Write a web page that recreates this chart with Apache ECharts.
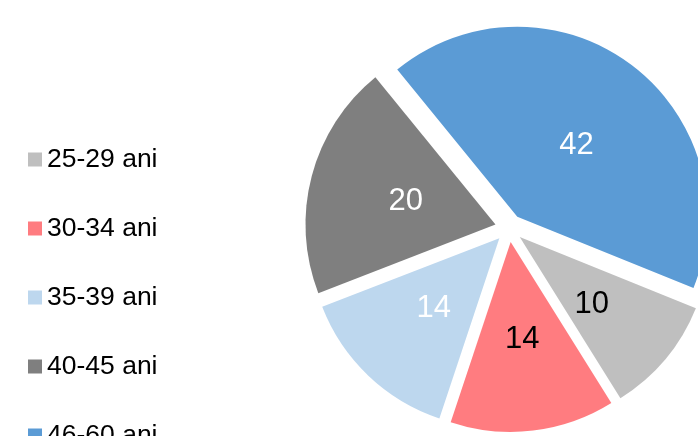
<!DOCTYPE html>
<html>
<head>
<meta charset="utf-8">
<script src="https://cdn.jsdelivr.net/npm/echarts@6/dist/echarts.min.js"></script>
<style>
  html, body { margin: 0; padding: 0; background: #fff; }
  #chart { width: 698px; height: 436px; }
</style>
</head>
<body>
<div id="chart"></div>
<script>
const categories = ['25-29 ani', '30-34 ani', '35-39 ani', '40-45 ani', '46-60 ani'];
const values = [10, 14, 14, 20, 42];
const colors = ['#BFBFBF', '#FF7C80', '#BDD7EE', '#7F7F7F', '#5B9BD5'];
const labelColors = ['#000', '#000', '#fff', '#fff', '#fff'];
// small nudges so the value labels sit where the original put them
const labelNudge = [[-3, 4], [0, 0], [2, -1], [5, 2], [1, 8]];

const chart = echarts.init(document.getElementById('chart'), null, { renderer: 'canvas' });

chart.setOption({
  animation: false,
  textStyle: { fontFamily: '"Liberation Sans", Arial, sans-serif' },
  legend: {
    orient: 'vertical',
    left: 23,
    top: 141,
    height: 600,
    icon: 'rect',
    itemWidth: 14,
    itemHeight: 14,
    itemGap: 42,
    selectedMode: false,
    textStyle: { fontSize: 26.5, color: '#000', padding: [0, 0, 0, 0], lineHeight: 25 },
    data: categories
  },
  series: [
    {
      type: 'pie',
      center: [509, 228],
      radius: 190,
      startAngle: -22,
      clockwise: true,
      selectedMode: 'multiple',
      selectedOffset: 14,
      avoidLabelOverlap: false,
      label: {
        show: true,
        position: 'inside',
        fontSize: 31,
        formatter: '{c}'
      },
      labelLine: { show: false },
      emphasis: { disabled: true },
      select: { itemStyle: { borderWidth: 0 } },
      data: categories.map((name, i) => ({
        name,
        value: values[i],
        selected: true,
        itemStyle: { color: colors[i] },
        label: { color: labelColors[i], offset: labelNudge[i] },
        select: {
          itemStyle: { color: colors[i], borderWidth: 0 },
          label: { color: labelColors[i], offset: labelNudge[i] }
        }
      }))
    }
  ]
});
</script>
</body>
</html>
